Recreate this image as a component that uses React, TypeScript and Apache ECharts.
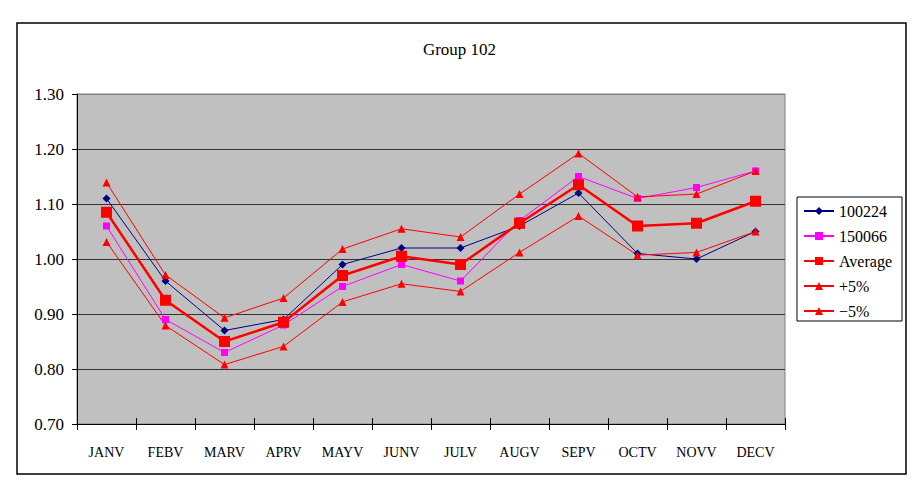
import React, { useEffect, useRef } from "react";
import * as echarts from "echarts";

const categories = ["JANV", "FEBV", "MARV", "APRV", "MAYV", "JUNV", "JULV", "AUGV", "SEPV", "OCTV", "NOVV", "DECV"];
const s100224 = [1.11, 0.96, 0.87, 0.89, 0.99, 1.02, 1.02, 1.06, 1.12, 1.01, 1.0, 1.05];
const s150066 = [1.06, 0.89, 0.83, 0.88, 0.95, 0.99, 0.96, 1.07, 1.15, 1.11, 1.13, 1.16];
const average = [1.085, 0.925, 0.85, 0.885, 0.97, 1.005, 0.99, 1.065, 1.135, 1.06, 1.065, 1.105];
const plus5 = [1.139, 0.971, 0.893, 0.929, 1.018, 1.055, 1.04, 1.118, 1.192, 1.113, 1.118, 1.16];
const minus5 = [1.031, 0.879, 0.808, 0.841, 0.922, 0.955, 0.941, 1.012, 1.078, 1.007, 1.012, 1.05];
const yTicks = { min: 0.7, max: 1.3, interval: 0.1 };

const FONT = "Liberation Serif";

export default function App() {
  const ref = useRef<HTMLDivElement>(null);
  useEffect(() => {
    if (!ref.current) return;
    const chart = echarts.init(ref.current, undefined, { renderer: "svg" });
    const option: any = {
      animation: false,
      backgroundColor: "#ffffff",
      textStyle: { fontFamily: FONT, color: "#000" },
      title: {
        text: "Group 102",
        left: "center",
        top: 41,
        padding: 0,
        textStyle: { fontFamily: FONT, fontSize: 17, fontWeight: "normal", color: "#000" },
      },
      graphic: [
        {
          type: "rect",
          shape: { x: 17, y: 23, width: 889, height: 451 },
          style: { fill: "none", stroke: "#000", lineWidth: 1.5 },
          z: 100,
          silent: true,
        },
      ],
      grid: {
        left: 77,
        top: 94,
        right: 134,
        bottom: 60,
        show: true,
        backgroundColor: "#c0c0c0",
        borderColor: "#808080",
        borderWidth: 1,
      },
      legend: {
        orient: "vertical",
        left: 797,
        top: 197,
        padding: [6, 10, 2, 6],
        itemWidth: 30,
        itemHeight: 10,
        itemGap: 9,
        backgroundColor: "#fff",
        borderColor: "#000",
        borderWidth: 1,
        textStyle: { fontFamily: FONT, fontSize: 16, lineHeight: 16, color: "#000" },
        data: ["100224", "150066", "Average", "+5%", "−5%"],
      },
      xAxis: [
        {
          type: "category",
          data: categories,
          boundaryGap: true,
          axisLine: { lineStyle: { color: "#000", width: 1 } },
          axisTick: { show: true, length: 6, lineStyle: { color: "#000" } },
          axisLabel: { fontFamily: FONT, fontSize: 14, color: "#000", margin: 21 },
          splitLine: { show: false },
        },
        {
          type: "category",
          data: categories,
          position: "bottom",
          boundaryGap: true,
          axisLine: { show: false },
          axisTick: { show: true, inside: true, length: 6, lineStyle: { color: "#000" } },
          axisLabel: { show: false },
          splitLine: { show: false },
        },
      ],
      yAxis: {
        type: "value",
        min: yTicks.min,
        max: yTicks.max,
        interval: yTicks.interval,
        axisLine: { show: true, lineStyle: { color: "#000", width: 1 } },
        axisTick: { show: true, length: 5, lineStyle: { color: "#000" } },
        axisLabel: {
          fontFamily: FONT,
          fontSize: 17,
          color: "#000",
          margin: 13,
          formatter: (v: number) => v.toFixed(2),
        },
        splitLine: {
          show: true,
          lineStyle: { color: ["#000", "#333", "#333", "#333", "#333", "#333", "#808080"], width: 1 },
        },
      },
      series: [
        {
          name: "100224",
          type: "line",
          data: s100224,
          symbol: "diamond",
          symbolSize: 8,
          lineStyle: { color: "#000080", width: 1 },
          itemStyle: { color: "#000080" },
        },
        {
          name: "150066",
          type: "line",
          data: s150066,
          symbol: "rect",
          symbolSize: 7,
          lineStyle: { color: "#ff00ff", width: 1 },
          itemStyle: { color: "#ff00ff" },
        },
        {
          name: "Average",
          type: "line",
          data: average,
          symbol: "rect",
          symbolSize: 11,
          lineStyle: { color: "#ff0000", width: 2.5 },
          itemStyle: { color: "#ff0000" },
        },
        {
          name: "+5%",
          type: "line",
          data: plus5,
          symbol: "triangle",
          symbolSize: 8,
          lineStyle: { color: "#ff0000", width: 1 },
          itemStyle: { color: "#ff0000" },
        },
        {
          name: "−5%",
          type: "line",
          data: minus5,
          symbol: "triangle",
          symbolSize: 8,
          lineStyle: { color: "#ff0000", width: 1 },
          itemStyle: { color: "#ff0000" },
        },
      ],
    };
    chart.setOption(option);
    return () => chart.dispose();
  }, []);
  return (
    <div
      ref={ref}
      style={{ position: "fixed", left: 0, top: 0, width: 919, height: 484 }}
    />
  );
}
